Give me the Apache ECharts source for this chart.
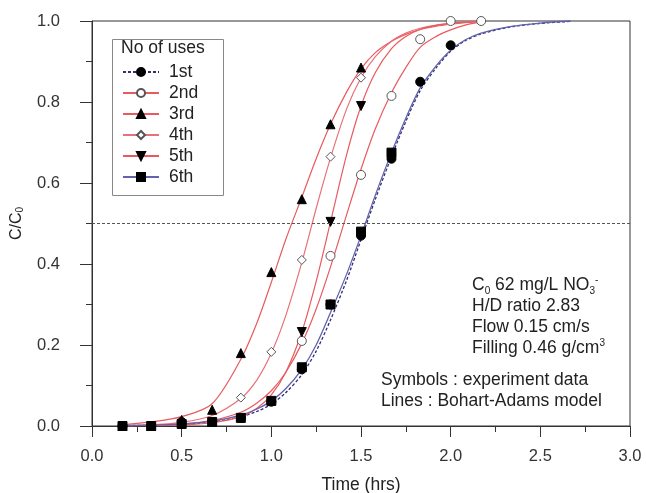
<!DOCTYPE html>
<html>
<head>
<meta charset="utf-8">
<script src="https://cdn.jsdelivr.net/npm/echarts@6/dist/echarts.min.js"></script>
<style>
  html, body { margin: 0; padding: 0; background: #fff; }
  #chart { width: 646px; height: 493px; }
</style>
</head>
<body>
<div id="chart"></div>
<script>
// experiment data (symbols)
const t1 = [0.17, 0.33, 0.5, 0.67, 0.83, 1.0, 1.17, 1.33, 1.5, 1.67, 1.83, 2.0];
const y1 = [0, 0, 0.01, 0.01, 0.02, 0.06, 0.14, 0.30, 0.47, 0.66, 0.85, 0.94];
const t2 = [1.17, 1.33, 1.5, 1.67, 1.83, 2.0, 2.17];
const y2 = [0.21, 0.42, 0.62, 0.815, 0.955, 1.0, 1.0];
const t3 = [0.17, 0.33, 0.5, 0.67, 0.83, 1.0, 1.17, 1.33, 1.5];
const y3 = [0, 0, 0.015, 0.04, 0.18, 0.38, 0.56, 0.745, 0.885];
const t4 = [0.83, 1.0, 1.17, 1.33, 1.5];
const y4 = [0.07, 0.183, 0.41, 0.665, 0.86];
const t5 = [1.17, 1.33, 1.5];
const y5 = [0.232, 0.504, 0.79];
const t6 = [0.17, 0.33, 0.5, 0.67, 0.83, 1.0, 1.17, 1.33, 1.5, 1.67];
const y6 = [0, 0, 0.005, 0.01, 0.02, 0.062, 0.145, 0.30, 0.48, 0.675];

// Bohart-Adams model lines
const lineTimes = [0.17, 0.33, 0.5, 0.67, 0.83, 0.92, 1.0, 1.08, 1.17, 1.25, 1.33, 1.42, 1.5, 1.58, 1.67, 1.75, 1.83, 1.92, 2.0, 2.08, 2.17, 2.33, 2.5, 2.67];
const m1 = [0.001, 0.002, 0.004, 0.01, 0.023, 0.036, 0.054, 0.082, 0.127, 0.185, 0.262, 0.36, 0.46, 0.56, 0.665, 0.752, 0.828, 0.885, 0.925, 0.951, 0.968, 0.985, 0.994, 0.999];
const m2 = [0.001, 0.002, 0.005, 0.014, 0.034, 0.057, 0.087, 0.132, 0.204, 0.289, 0.393, 0.522, 0.634, 0.734, 0.823, 0.885, 0.935, 0.962, 0.978, 0.99, 0.998, null, null, null];
const m3 = [0.003, 0.01, 0.023, 0.055, 0.165, 0.255, 0.355, 0.46, 0.565, 0.66, 0.745, 0.825, 0.882, 0.922, 0.95, 0.967, 0.979, 0.987, 0.992, 0.996, 0.999, null, null, null];
const m4 = [0.001, 0.003, 0.009, 0.026, 0.068, 0.114, 0.18, 0.272, 0.404, 0.537, 0.662, 0.783, 0.86, 0.912, 0.95, 0.97, 0.982, 0.99, 0.994, 0.997, 0.999, null, null, null];
const m5 = [0.0005, 0.001, 0.003, 0.008, 0.023, 0.044, 0.077, 0.132, 0.232, 0.357, 0.504, 0.67, 0.79, 0.873, 0.932, 0.962, 0.979, 0.989, 0.994, 0.997, 0.999, null, null, null];
const m6 = [0.001, 0.002, 0.005, 0.012, 0.027, 0.042, 0.062, 0.092, 0.14, 0.2, 0.28, 0.375, 0.47, 0.57, 0.675, 0.76, 0.835, 0.89, 0.928, 0.953, 0.97, 0.986, 0.995, 1.0];

const useNames = ['1st', '2nd', '3rd', '4th', '5th', '6th'];
const xTicks = [0, 0.5, 1.0, 1.5, 2.0, 2.5, 3.0];
const yTicks = [0, 0.2, 0.4, 0.6, 0.8, 1.0];

const FONT = '"Liberation Sans", Arial, sans-serif';
const RED = '#e85a5e';
const invTri = 'path://M0,0 L10,0 L5,9 Z';

const pairs = (xs, ys) => xs.map((x, i) => [x, ys[i]]).filter(p => p[1] !== null);

const filled = { color: '#000', borderColor: '#000', borderWidth: 1, opacity: 1 };
const hollow = { color: '#fff', borderColor: '#555', borderWidth: 1, opacity: 1 };

const sets = [
  { name: useNames[0], t: t1, y: y1, m: m1, symbol: 'circle', size: 9, item: filled,
    line: { color: '#2f2f72', width: 1.3, type: [3, 2] } },
  { name: useNames[1], t: t2, y: y2, m: m2, symbol: 'circle', size: 9, item: hollow,
    line: { color: RED, width: 1.2 } },
  { name: useNames[2], t: t3, y: y3, m: m3, symbol: 'triangle', size: 9, item: filled,
    line: { color: RED, width: 1.2 } },
  { name: useNames[3], t: t4, y: y4, m: m4, symbol: 'diamond', size: 9, item: hollow,
    line: { color: '#ea7078', width: 1.2 } },
  { name: useNames[4], t: t5, y: y5, m: m5, symbol: invTri, size: 9, item: filled,
    line: { color: RED, width: 1.2 } },
  { name: useNames[5], t: t6, y: y6, m: m6, symbol: 'rect', size: 9, item: filled,
    line: { color: '#6262ad', width: 1.3 } }
];

const series = [];
sets.forEach(s => {
  series.push({
    name: s.name,
    type: 'line',
    data: pairs(lineTimes, s.m),
    smooth: 0.3,
    showSymbol: false,
    symbol: s.symbol,
    symbolSize: s.size,
    itemStyle: s.item,
    lineStyle: s.line,
    silent: true,
    z: 2
  });
});
sets.forEach(s => {
  series.push({
    name: s.name + ' data',
    type: 'scatter',
    data: pairs(s.t, s.y),
    symbol: s.symbol,
    symbolSize: s.size,
    itemStyle: s.item,
    z: 4
  });
});
// 0.5 reference line
series[0].markLine = {
  silent: true,
  symbol: 'none',
  label: { show: false },
  lineStyle: { color: '#555', type: [3, 2], width: 1 },
  data: [{ yAxis: 0.5 }]
};

const chart = echarts.init(document.getElementById('chart'));
chart.setOption({
  animation: false,
  textStyle: { fontFamily: FONT },
  grid: {
    left: 92, right: 16, top: 21, bottom: 67,
    outerBoundsMode: 'none', containLabel: false,
    show: true, borderColor: '#333', borderWidth: 1
  },
  xAxis: {
    type: 'value',
    min: xTicks[0],
    max: xTicks[xTicks.length - 1],
    interval: 0.5,
    name: 'Time (hrs)',
    nameLocation: 'middle',
    nameGap: 50,
    nameMoveOverlap: false,
    nameTextStyle: { fontSize: 17.5, color: '#222', fontFamily: FONT },
    axisLine: { onZero: false, lineStyle: { color: '#333' } },
    axisTick: { length: 11, inside: false, lineStyle: { color: '#333' } },
    minorTick: { show: true, splitNumber: 2, length: 6, lineStyle: { color: '#333' } },
    splitLine: { show: false },
    axisLabel: { fontSize: 16.5, color: '#333', margin: 22, formatter: v => v.toFixed(1) }
  },
  yAxis: {
    type: 'value',
    min: yTicks[0],
    max: yTicks[yTicks.length - 1],
    interval: 0.2,
    name: '{a|C/C}{s|0}',
    nameLocation: 'middle',
    nameGap: 67,
    nameRotate: 90,
    nameMoveOverlap: false,
    nameTextStyle: {
      rich: {
        a: { fontSize: 16, color: '#222', fontFamily: FONT },
        s: { fontSize: 10, color: '#222', fontFamily: FONT, verticalAlign: 'bottom', padding: [6, 0, 0, 0] }
      }
    },
    axisLine: { lineStyle: { color: '#333' } },
    axisTick: { length: 12, lineStyle: { color: '#333' } },
    minorTick: { show: true, splitNumber: 2, length: 6, lineStyle: { color: '#333' } },
    splitLine: { show: false },
    axisLabel: { fontSize: 16.5, color: '#333', margin: 32, formatter: v => v.toFixed(1) }
  },
  legend: {
    data: useNames,
    orient: 'vertical',
    left: 122,
    top: 61.5,
    itemWidth: 36,
    itemHeight: 10,
    itemGap: 0,
    padding: 0,
    textStyle: { fontSize: 17.5, lineHeight: 21, color: '#222', fontFamily: FONT, padding: [0, 0, 0, 5] }
  },
  graphic: [
    {
      type: 'rect', left: 110, top: 37, silent: true, z: 10,
      shape: { width: 111, height: 156 },
      style: { fill: 'none', stroke: '#888', lineWidth: 1 }
    },
    {
      type: 'text', left: 121, top: 39, silent: true, z: 10,
      style: { text: 'No of uses', fontSize: 17.5, fill: '#222', fontFamily: FONT }
    },
    {
      type: 'text', left: 472, top: 275, silent: true, z: 10,
      style: {
        text: '{t|C}{s|0}{t| 62 mg/L NO}{s|3}{u|-}\n{t|H/D ratio 2.83}\n{t|Flow 0.15 cm/s}\n{t|Filling 0.46 g/cm}{u|3}',
        fontFamily: FONT,
        lineHeight: 21,
        rich: {
          t: { fontSize: 17.5, fill: '#222', lineHeight: 21, fontFamily: FONT },
          s: { fontSize: 10, fill: '#222', verticalAlign: 'bottom', lineHeight: 21, padding: [7, 0, 0, 0], fontFamily: FONT },
          u: { fontSize: 10, fill: '#222', verticalAlign: 'top', lineHeight: 21, padding: [0, 0, 7, 0], fontFamily: FONT }
        }
      }
    },
    {
      type: 'text', left: 381, top: 370, silent: true, z: 10,
      style: {
        text: 'Symbols : experiment data\nLines : Bohart-Adams model',
        fontSize: 17.5, lineHeight: 21, fill: '#222', fontFamily: FONT
      }
    }
  ],
  series: series
});
</script>
</body>
</html>
